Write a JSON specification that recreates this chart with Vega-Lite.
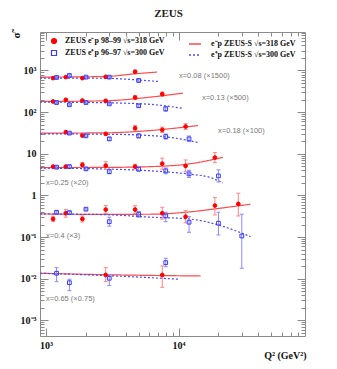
{
  "$schema": "https://vega.github.io/schema/vega-lite/v6.json",
  "width": 265,
  "height": 304,
  "autosize": {"type": "none"},
  "padding": {"left": 40, "top": 32, "right": 32, "bottom": 33},
  "background": "white",
  "title": {"text": "ZEUS", "font": "Liberation Serif", "fontSize": 11, "fontWeight": "bold", "color": "#222", "offset": 9, "dx": -4},
  "config": {
    "view": {"stroke": "#8a8a8a", "strokeWidth": 1},
    "axis": {"domain": false, "grid": false, "tickColor": "#8a8a8a", "labelColor": "#111", "labelFont": "Liberation Serif", "labelFontSize": 10, "labelFontWeight": "bold", "labelFlush": false, "labelOverlap": false, "labelBound": false}
  },
  "datasets": {
    "pts": [
      {"x": "0.08", "beam": "em", "q2": 1130, "s": 656, "lo": 630, "hi": 685},
      {"x": "0.08", "beam": "em", "q2": 1410, "s": 693, "lo": 665, "hi": 722},
      {"x": "0.08", "beam": "em", "q2": 1880, "s": 656, "lo": 630, "hi": 685},
      {"x": "0.08", "beam": "em", "q2": 2820, "s": 706, "lo": 675, "hi": 738},
      {"x": "0.08", "beam": "em", "q2": 4700, "s": 931, "lo": 840, "hi": 1030},
      {"x": "0.08", "beam": "ep", "q2": 1200, "s": 680, "lo": 650, "hi": 711},
      {"x": "0.08", "beam": "ep", "q2": 1500, "s": 759, "lo": 725, "hi": 795},
      {"x": "0.08", "beam": "ep", "q2": 2000, "s": 693, "lo": 662, "hi": 725},
      {"x": "0.08", "beam": "ep", "q2": 3000, "s": 693, "lo": 660, "hi": 727},
      {"x": "0.08", "beam": "ep", "q2": 5000, "s": 576, "lo": 535, "hi": 620},
      {"x": "0.13", "beam": "em", "q2": 1130, "s": 180, "lo": 172, "hi": 188},
      {"x": "0.13", "beam": "em", "q2": 1410, "s": 198, "lo": 189, "hi": 207},
      {"x": "0.13", "beam": "em", "q2": 1880, "s": 190, "lo": 181, "hi": 199},
      {"x": "0.13", "beam": "em", "q2": 2820, "s": 187, "lo": 178, "hi": 196},
      {"x": "0.13", "beam": "em", "q2": 4700, "s": 224, "lo": 200, "hi": 250},
      {"x": "0.13", "beam": "em", "q2": 7530, "s": 271, "lo": 240, "hi": 305},
      {"x": "0.13", "beam": "ep", "q2": 1200, "s": 170, "lo": 162, "hi": 178},
      {"x": "0.13", "beam": "ep", "q2": 1500, "s": 150, "lo": 143, "hi": 157},
      {"x": "0.13", "beam": "ep", "q2": 2000, "s": 170, "lo": 162, "hi": 178},
      {"x": "0.13", "beam": "ep", "q2": 3000, "s": 158, "lo": 150, "hi": 166},
      {"x": "0.13", "beam": "ep", "q2": 5000, "s": 142, "lo": 132, "hi": 153},
      {"x": "0.13", "beam": "ep", "q2": 8000, "s": 120, "lo": 105, "hi": 137},
      {"x": "0.18", "beam": "em", "q2": 1410, "s": 33.0, "lo": 31.2, "hi": 34.9},
      {"x": "0.18", "beam": "em", "q2": 1880, "s": 27.4, "lo": 25.5, "hi": 29.4},
      {"x": "0.18", "beam": "em", "q2": 2820, "s": 30.1, "lo": 27.8, "hi": 32.6},
      {"x": "0.18", "beam": "em", "q2": 4700, "s": 41.2, "lo": 35.5, "hi": 47.8},
      {"x": "0.18", "beam": "em", "q2": 7530, "s": 37.6, "lo": 32.4, "hi": 43.6},
      {"x": "0.18", "beam": "em", "q2": 11300, "s": 45.1, "lo": 38.5, "hi": 52.8},
      {"x": "0.18", "beam": "ep", "q2": 1500, "s": 31.3, "lo": 29.6, "hi": 33.1},
      {"x": "0.18", "beam": "ep", "q2": 2000, "s": 26.9, "lo": 25.4, "hi": 28.5},
      {"x": "0.18", "beam": "ep", "q2": 3000, "s": 22.8, "lo": 21.0, "hi": 24.7},
      {"x": "0.18", "beam": "ep", "q2": 5000, "s": 26.9, "lo": 24.0, "hi": 30.0},
      {"x": "0.18", "beam": "ep", "q2": 8000, "s": 25.9, "lo": 22.5, "hi": 29.8},
      {"x": "0.18", "beam": "ep", "q2": 12000, "s": 22.8, "lo": 19.5, "hi": 26.7},
      {"x": "0.25", "beam": "em", "q2": 1130, "s": 4.92, "lo": 4.6, "hi": 5.25},
      {"x": "0.25", "beam": "em", "q2": 1410, "s": 4.92, "lo": 4.6, "hi": 5.25},
      {"x": "0.25", "beam": "em", "q2": 1880, "s": 5.41, "lo": 4.75, "hi": 6.15},
      {"x": "0.25", "beam": "em", "q2": 2820, "s": 5.2, "lo": 4.2, "hi": 6.45},
      {"x": "0.25", "beam": "em", "q2": 4700, "s": 4.92, "lo": 4.3, "hi": 5.6},
      {"x": "0.25", "beam": "em", "q2": 7530, "s": 5.78, "lo": 4.25, "hi": 7.85},
      {"x": "0.25", "beam": "em", "q2": 11300, "s": 5.12, "lo": 3.7, "hi": 7.1},
      {"x": "0.25", "beam": "em", "q2": 18800, "s": 8.11, "lo": 6.15, "hi": 10.7},
      {"x": "0.25", "beam": "ep", "q2": 1200, "s": 4.76, "lo": 4.45, "hi": 5.1},
      {"x": "0.25", "beam": "ep", "q2": 1500, "s": 4.92, "lo": 4.6, "hi": 5.25},
      {"x": "0.25", "beam": "ep", "q2": 2000, "s": 4.34, "lo": 4.05, "hi": 4.65},
      {"x": "0.25", "beam": "ep", "q2": 3000, "s": 3.73, "lo": 3.3, "hi": 4.2},
      {"x": "0.25", "beam": "ep", "q2": 5000, "s": 4.27, "lo": 3.85, "hi": 4.75},
      {"x": "0.25", "beam": "ep", "q2": 8000, "s": 3.88, "lo": 3.3, "hi": 4.55},
      {"x": "0.25", "beam": "ep", "q2": 12000, "s": 3.29, "lo": 2.7, "hi": 4.0},
      {"x": "0.25", "beam": "ep", "q2": 20000, "s": 2.94, "lo": 2.1, "hi": 4.1},
      {"x": "0.4", "beam": "em", "q2": 1130, "s": 0.272, "lo": 0.235, "hi": 0.315},
      {"x": "0.4", "beam": "em", "q2": 1410, "s": 0.373, "lo": 0.30, "hi": 0.46},
      {"x": "0.4", "beam": "em", "q2": 1880, "s": 0.272, "lo": 0.23, "hi": 0.32},
      {"x": "0.4", "beam": "em", "q2": 2820, "s": 0.457, "lo": 0.37, "hi": 0.57},
      {"x": "0.4", "beam": "em", "q2": 4700, "s": 0.457, "lo": 0.37, "hi": 0.565},
      {"x": "0.4", "beam": "em", "q2": 7530, "s": 0.373, "lo": 0.27, "hi": 0.52},
      {"x": "0.4", "beam": "em", "q2": 11300, "s": 0.309, "lo": 0.22, "hi": 0.43},
      {"x": "0.4", "beam": "em", "q2": 18800, "s": 0.569, "lo": 0.34, "hi": 0.885},
      {"x": "0.4", "beam": "em", "q2": 28250, "s": 0.625, "lo": 0.321, "hi": 1.13},
      {"x": "0.4", "beam": "ep", "q2": 1200, "s": 0.394, "lo": 0.37, "hi": 0.42},
      {"x": "0.4", "beam": "ep", "q2": 1500, "s": 0.386, "lo": 0.36, "hi": 0.41},
      {"x": "0.4", "beam": "ep", "q2": 2000, "s": 0.466, "lo": 0.44, "hi": 0.495},
      {"x": "0.4", "beam": "ep", "q2": 3000, "s": 0.234, "lo": 0.183, "hi": 0.30},
      {"x": "0.4", "beam": "ep", "q2": 5000, "s": 0.353, "lo": 0.30, "hi": 0.41},
      {"x": "0.4", "beam": "ep", "q2": 8000, "s": 0.321, "lo": 0.234, "hi": 0.394},
      {"x": "0.4", "beam": "ep", "q2": 12000, "s": 0.227, "lo": 0.13, "hi": 0.309},
      {"x": "0.4", "beam": "ep", "q2": 20000, "s": 0.215, "lo": 0.112, "hi": 0.394},
      {"x": "0.4", "beam": "ep", "q2": 30000, "s": 0.106, "lo": 0.0178, "hi": 0.353},
      {"x": "0.65", "beam": "em", "q2": 2820, "s": 0.01227, "lo": 0.00848, "hi": 0.01837},
      {"x": "0.65", "beam": "em", "q2": 7530, "s": 0.01227, "lo": 0.00621, "hi": 0.0202},
      {"x": "0.65", "beam": "ep", "q2": 1200, "s": 0.01349, "lo": 0.00848, "hi": 0.01837},
      {"x": "0.65", "beam": "ep", "q2": 1500, "s": 0.00801, "lo": 0.00515, "hi": 0.00968},
      {"x": "0.65", "beam": "ep", "q2": 3000, "s": 0.01023, "lo": 0.0068, "hi": 0.01227},
      {"x": "0.65", "beam": "ep", "q2": 8000, "s": 0.0243, "lo": 0.0194, "hi": 0.0309}
    ],
    "curves": [
      {"x": "0.08", "fit": "S318", "q2": 900, "s": 693},
      {"x": "0.08", "fit": "S318", "q2": 2800, "s": 717},
      {"x": "0.08", "fit": "S318", "q2": 4700, "s": 833},
      {"x": "0.08", "fit": "S318", "q2": 6870, "s": 915},
      {"x": "0.08", "fit": "S300", "q2": 900, "s": 656},
      {"x": "0.08", "fit": "S300", "q2": 2800, "s": 650},
      {"x": "0.08", "fit": "S300", "q2": 4700, "s": 598},
      {"x": "0.08", "fit": "S300", "q2": 7000, "s": 545},
      {"x": "0.13", "fit": "S318", "q2": 900, "s": 180},
      {"x": "0.13", "fit": "S318", "q2": 2800, "s": 187},
      {"x": "0.13", "fit": "S318", "q2": 6090, "s": 229},
      {"x": "0.13", "fit": "S318", "q2": 10800, "s": 286},
      {"x": "0.13", "fit": "S300", "q2": 900, "s": 174},
      {"x": "0.13", "fit": "S300", "q2": 2800, "s": 168},
      {"x": "0.13", "fit": "S300", "q2": 6090, "s": 154},
      {"x": "0.13", "fit": "S300", "q2": 10800, "s": 123},
      {"x": "0.18", "fit": "S318", "q2": 900, "s": 31.3},
      {"x": "0.18", "fit": "S318", "q2": 2800, "s": 31.8},
      {"x": "0.18", "fit": "S318", "q2": 6090, "s": 36.1},
      {"x": "0.18", "fit": "S318", "q2": 14000, "s": 47.6},
      {"x": "0.18", "fit": "S300", "q2": 900, "s": 30.1},
      {"x": "0.18", "fit": "S300", "q2": 2800, "s": 29.5},
      {"x": "0.18", "fit": "S300", "q2": 6090, "s": 27.4},
      {"x": "0.18", "fit": "S300", "q2": 9400, "s": 23.8},
      {"x": "0.18", "fit": "S300", "q2": 14000, "s": 18.6},
      {"x": "0.25", "fit": "S318", "q2": 900, "s": 4.66},
      {"x": "0.25", "fit": "S318", "q2": 2800, "s": 4.7},
      {"x": "0.25", "fit": "S318", "q2": 6090, "s": 4.9},
      {"x": "0.25", "fit": "S318", "q2": 12000, "s": 5.7},
      {"x": "0.25", "fit": "S318", "q2": 21600, "s": 8.2},
      {"x": "0.25", "fit": "S300", "q2": 900, "s": 4.51},
      {"x": "0.25", "fit": "S300", "q2": 2800, "s": 4.3},
      {"x": "0.25", "fit": "S300", "q2": 6090, "s": 3.9},
      {"x": "0.25", "fit": "S300", "q2": 12000, "s": 3.25},
      {"x": "0.25", "fit": "S300", "q2": 17000, "s": 2.75},
      {"x": "0.25", "fit": "S300", "q2": 21600, "s": 2.0},
      {"x": "0.4", "fit": "S318", "q2": 900, "s": 0.359},
      {"x": "0.4", "fit": "S318", "q2": 2800, "s": 0.35},
      {"x": "0.4", "fit": "S318", "q2": 6090, "s": 0.353},
      {"x": "0.4", "fit": "S318", "q2": 12000, "s": 0.40},
      {"x": "0.4", "fit": "S318", "q2": 20000, "s": 0.486},
      {"x": "0.4", "fit": "S318", "q2": 34900, "s": 0.614},
      {"x": "0.4", "fit": "S300", "q2": 900, "s": 0.359},
      {"x": "0.4", "fit": "S300", "q2": 2800, "s": 0.345},
      {"x": "0.4", "fit": "S300", "q2": 6090, "s": 0.30},
      {"x": "0.4", "fit": "S300", "q2": 12000, "s": 0.272},
      {"x": "0.4", "fit": "S300", "q2": 20000, "s": 0.195},
      {"x": "0.4", "fit": "S300", "q2": 34900, "s": 0.102},
      {"x": "0.65", "fit": "S318", "q2": 900, "s": 0.0135},
      {"x": "0.65", "fit": "S318", "q2": 3000, "s": 0.0124},
      {"x": "0.65", "fit": "S318", "q2": 14700, "s": 0.0116},
      {"x": "0.65", "fit": "S300", "q2": 900, "s": 0.0135},
      {"x": "0.65", "fit": "S300", "q2": 3000, "s": 0.0118},
      {"x": "0.65", "fit": "S300", "q2": 10000, "s": 0.0097}
    ],
    "labels": [
      {"q2": 10070, "s": 747, "text": "x=0.08 (×1500)"},
      {"q2": 15020, "s": 221, "text": "x=0.13 (×500)"},
      {"q2": 19860, "s": 35.5, "text": "x=0.18 (×100)"},
      {"q2": 1000, "s": 2.0, "text": "x=0.25 (×20)"},
      {"q2": 1000, "s": 0.106, "text": "x=0.4 (×3)"},
      {"q2": 1000, "s": 0.00325, "text": "x=0.65 (×0.75)"}
    ]
  },
  "resolve": {"axis": {"x": "independent", "y": "independent"}},
  "layer": [
    {
      "data": {"name": "curves"},
      "mark": {"type": "line", "interpolate": "monotone", "clip": true},
      "encoding": {
        "x": {"field": "q2", "type": "quantitative", "scale": {"type": "log", "domain": [900, 90000], "nice": false},
          "axis": {"orient": "bottom", "title": "Q² (GeV²)", "values": [1000,2000,3000,4000,5000,6000,7000,8000,9000,10000,20000,30000,40000,50000,60000,70000,80000],
            "labelExpr": "datum.value == 1000 ? '10³' : datum.value == 10000 ? '10⁴' : ''",
            "tickSize": {"condition": {"test": "datum.value == 1000 || datum.value == 10000", "value": -8}, "value": -4},
            "labelPadding": 12,
            "titleFont": "Liberation Serif", "titleFontSize": 10, "titleFontWeight": "bold", "titleColor": "#111",
            "titleAnchor": "end", "titleAlign": "right", "titleX": 266, "titleY": 19, "titleBaseline": "middle"}},
        "y": {"field": "s", "type": "quantitative", "scale": {"type": "log", "domain": [0.00042, 8400], "nice": false},
          "axis": {"orient": "left", "title": "σ̃", "titleAngle": -90, "titleX": -24, "titleY": 3, "titleAlign": "center", "titleBaseline": "middle", "titleFont": "Liberation Serif", "titleFontSize": 11, "titleColor": "#111",
            "values": [0.0005,0.0006,0.0007,0.0008,0.0009,0.001,0.002,0.003,0.004,0.005,0.006,0.007,0.008,0.009,0.01,0.02,0.03,0.04,0.05,0.06,0.07,0.08,0.09,0.1,0.2,0.3,0.4,0.5,0.6,0.7,0.8,0.9,1,2,3,4,5,6,7,8,9,10,20,30,40,50,60,70,80,90,100,200,300,400,500,600,700,800,900,1000,2000,3000,4000,5000,6000,7000,8000],
            "labelExpr": "datum.value == 1000 ? '10³' : datum.value == 100 ? '10²' : datum.value == 10 ? '10' : datum.value == 1 ? '1' : datum.value == 0.1 ? '10⁻¹' : datum.value == 0.01 ? '10⁻²' : datum.value == 0.001 ? '10⁻³' : ''",
            "tickSize": {"condition": {"test": "indexof([1000,100,10,1,0.1,0.01,0.001], datum.value) >= 0", "value": -8}, "value": -4},
            "labelPadding": 12}},
        "color": {"field": "fit", "type": "nominal", "scale": {"domain": ["S318", "S300"], "range": ["#ff4a4a", "#4a4aff"]},
          "legend": {"orient": "none", "legendX": 148, "legendY": 5, "title": null, "padding": 0, "symbolType": "stroke", "symbolSize": 144, "symbolStrokeWidth": 1.5, "labelOffset": 9, "rowPadding": 0,
            "labelFont": "Liberation Serif", "labelFontSize": 8, "labelFontWeight": "bold", "labelColor": "#111",
            "labelExpr": "datum.value == 'S318' ? 'e⁻p  ZEUS-S   √s=318 GeV' : 'e⁺p  ZEUS-S   √s=300 GeV'"}},
        "strokeDash": {"field": "fit", "type": "nominal", "scale": {"domain": ["S318", "S300"], "range": [[1, 0], [2, 2]]},
          "legend": {"orient": "none", "legendX": 148, "legendY": 5, "title": null, "padding": 0, "symbolType": "stroke", "symbolSize": 144, "symbolStrokeWidth": 1.5, "labelOffset": 9, "rowPadding": 0,
            "labelFont": "Liberation Serif", "labelFontSize": 8, "labelFontWeight": "bold", "labelColor": "#111",
            "labelExpr": "datum.value == 'S318' ? 'e⁻p  ZEUS-S   √s=318 GeV' : 'e⁺p  ZEUS-S   √s=300 GeV'"}},
        "strokeWidth": {"value": 1.2},
        "detail": {"field": "x"}
      }
    },
    {
      "data": {"name": "pts"},
      "mark": {"type": "rule", "strokeWidth": 1},
      "encoding": {
        "x": {"field": "q2", "type": "quantitative", "axis": null},
        "y": {"field": "lo", "type": "quantitative", "axis": null},
        "y2": {"field": "hi"},
        "color": {"condition": {"test": "datum.beam == 'em'", "value": "#ff8484"}, "value": "#8a8aff"}
      }
    },
    {
      "data": {"name": "pts"},
      "mark": {"type": "point", "shape": "stroke", "size": 16, "strokeWidth": 1, "opacity": 1},
      "encoding": {
        "x": {"field": "q2", "type": "quantitative", "axis": null},
        "y": {"field": "lo", "type": "quantitative", "axis": null},
        "color": {"condition": {"test": "datum.beam == 'em'", "value": "#ff8484"}, "value": "#8a8aff"}
      }
    },
    {
      "data": {"name": "pts"},
      "mark": {"type": "point", "shape": "stroke", "size": 16, "strokeWidth": 1, "opacity": 1},
      "encoding": {
        "x": {"field": "q2", "type": "quantitative", "axis": null},
        "y": {"field": "hi", "type": "quantitative", "axis": null},
        "color": {"condition": {"test": "datum.beam == 'em'", "value": "#ff8484"}, "value": "#8a8aff"}
      }
    },
    {
      "data": {"name": "pts"},
      "mark": {"type": "point", "size": 14, "strokeWidth": 1, "opacity": 1},
      "encoding": {
        "x": {"field": "q2", "type": "quantitative", "axis": null},
        "y": {"field": "s", "type": "quantitative", "axis": null},
        "shape": {"field": "beam", "type": "nominal", "scale": {"domain": ["em", "ep"], "range": ["circle", "square"]},
          "legend": {"orient": "none", "legendX": 10, "legendY": 5, "title": null, "padding": 0, "symbolSize": 25, "symbolStrokeWidth": 1.2, "labelOffset": 7, "rowPadding": 2,
            "labelFont": "Liberation Serif", "labelFontSize": 8, "labelFontWeight": "bold", "labelColor": "#111",
            "labelExpr": "datum.value == 'em' ? 'ZEUS e⁻p 98–99   √s=318 GeV' : 'ZEUS e⁺p 96–97   √s=300 GeV'"}},
        "fill": {"field": "beam", "type": "nominal", "scale": {"domain": ["em", "ep"], "range": ["#ff0000", "transparent"]},
          "legend": {"orient": "none", "legendX": 10, "legendY": 5, "title": null, "padding": 0, "symbolSize": 25, "symbolStrokeWidth": 1.2, "labelOffset": 7, "rowPadding": 2,
            "labelFont": "Liberation Serif", "labelFontSize": 8, "labelFontWeight": "bold", "labelColor": "#111",
            "labelExpr": "datum.value == 'em' ? 'ZEUS e⁻p 98–99   √s=318 GeV' : 'ZEUS e⁺p 96–97   √s=300 GeV'"}},
        "stroke": {"field": "beam", "type": "nominal", "scale": {"domain": ["em", "ep"], "range": ["#ff0000", "#3a3aff"]},
          "legend": {"orient": "none", "legendX": 10, "legendY": 5, "title": null, "padding": 0, "symbolSize": 25, "symbolStrokeWidth": 1.2, "labelOffset": 7, "rowPadding": 2,
            "labelFont": "Liberation Serif", "labelFontSize": 8, "labelFontWeight": "bold", "labelColor": "#111",
            "labelExpr": "datum.value == 'em' ? 'ZEUS e⁻p 98–99   √s=318 GeV' : 'ZEUS e⁺p 96–97   √s=300 GeV'"}}
      }
    },
    {
      "data": {"name": "labels"},
      "mark": {"type": "text", "align": "left", "baseline": "middle", "font": "Liberation Sans", "fontSize": 7.5, "color": "#7a7a7a"},
      "encoding": {
        "x": {"field": "q2", "type": "quantitative",
          "axis": {"orient": "top", "title": null, "labels": false, "values": [1000,2000,3000,4000,5000,6000,7000,8000,9000,10000,20000,30000,40000,50000,60000,70000,80000],
            "tickSize": {"condition": {"test": "datum.value == 1000 || datum.value == 10000", "value": -8}, "value": -4}}},
        "y": {"field": "s", "type": "quantitative",
          "axis": {"orient": "right", "title": null, "labels": false,
            "values": [0.0005,0.0006,0.0007,0.0008,0.0009,0.001,0.002,0.003,0.004,0.005,0.006,0.007,0.008,0.009,0.01,0.02,0.03,0.04,0.05,0.06,0.07,0.08,0.09,0.1,0.2,0.3,0.4,0.5,0.6,0.7,0.8,0.9,1,2,3,4,5,6,7,8,9,10,20,30,40,50,60,70,80,90,100,200,300,400,500,600,700,800,900,1000,2000,3000,4000,5000,6000,7000,8000],
            "tickSize": {"condition": {"test": "indexof([1000,100,10,1,0.1,0.01,0.001], datum.value) >= 0", "value": -8}, "value": -4}}},
        "text": {"field": "text"}
      }
    }
  ]
}
